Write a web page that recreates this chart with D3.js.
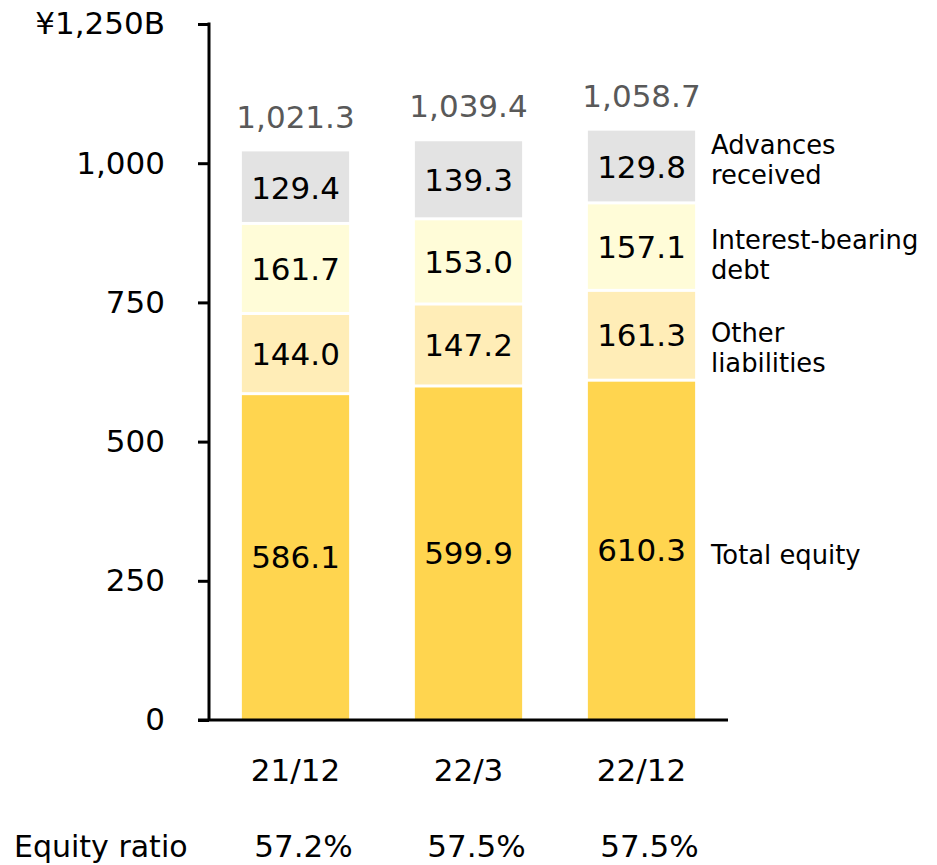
<!DOCTYPE html>
<html>
<head>
<meta charset="utf-8">
<script src="https://cdn.jsdelivr.net/npm/d3@7"></script>
<style>
  body { margin: 0; background: #fff; }
  text { font-family: "DejaVu Sans", Verdana, sans-serif; }
</style>
</head>
<body>
<svg id="chart" width="937" height="865"></svg>
<script>
// Chart data
const periods = ["21/12", "22/3", "22/12"];
const seriesNames = ["Total equity", "Other liabilities", "Interest-bearing debt", "Advances received"];
const legendLines = [["Total equity"], ["Other", "liabilities"], ["Interest-bearing", "debt"], ["Advances", "received"]];
const totalEquity = [586.1, 599.9, 610.3];
const otherLiabilities = [144.0, 147.2, 161.3];
const interestDebt = [161.7, 153.0, 157.1];
const advancesReceived = [129.4, 139.3, 129.8];
const totals = ["1,021.3", "1,039.4", "1,058.7"];
const equityRatio = ["57.2%", "57.5%", "57.5%"];
const yTicks = [0, 250, 500, 750, 1000, 1250];
const colors = ["#FFD54F", "#FFEDB7", "#FFFCD8", "#E3E3E3"];

document.addEventListener("DOMContentLoaded", () => {

    const svg = d3.select("#chart");
    const left = 209, right = 728, top = 24, bottom = 720;
    const fs = 31;

    const table = periods.map((p, i) => ({
        period: p,
        "Total equity": totalEquity[i],
        "Other liabilities": otherLiabilities[i],
        "Interest-bearing debt": interestDebt[i],
        "Advances received": advancesReceived[i]
    }));
    const stacked = d3.stack().keys(seriesNames)(table);

    const x = d3.scaleBand().domain(periods).range([left, right])
        .paddingInner(0.38).paddingOuter(0.19);
    const y = d3.scaleLinear().domain([0, 1250]).range([bottom, top]);

    // Bars
    const gap = 3;
    stacked.forEach((layer, si) => {
        const isTop = si === stacked.length - 1;
        svg.append("g").selectAll("rect")
            .data(layer)
            .join("rect")
            .attr("x", d => x(d.data.period))
            .attr("width", x.bandwidth())
            .attr("y", d => y(d[1]) + (isTop ? 0 : gap / 2))
            .attr("height", d => {
                const t = y(d[1]) + (isTop ? 0 : gap / 2);
                const b = si === 0 ? y(d[0]) : y(d[0]) - gap / 2;
                return b - t;
            })
            .attr("fill", colors[si]);

        // value labels
        svg.append("g").selectAll("text")
            .data(layer)
            .join("text")
            .attr("x", d => x(d.data.period) + x.bandwidth() / 2)
            .attr("y", d => y((d[0] + d[1]) / 2))
            .attr("dy", "0.36em")
            .attr("text-anchor", "middle")
            .attr("font-size", fs)
            .attr("fill", "#000")
            .text(d => (d[1] - d[0]).toFixed(1));
    });

    // Totals above bars
    const topLayer = stacked[stacked.length - 1];
    svg.append("g").selectAll("text")
        .data(topLayer)
        .join("text")
        .attr("x", d => x(d.data.period) + x.bandwidth() / 2)
        .attr("y", d => y(d[1]) - 35)
        .attr("dy", "0.36em")
        .attr("text-anchor", "middle")
        .attr("font-size", fs)
        .attr("fill", "#595959")
        .text((d, i) => totals[i]);

    // Legend labels on the right of last bar
    const last = periods.length - 1;
    const legendShift = [5, 12, 8, -7];
    stacked.forEach((layer, si) => {
        const d = layer[last];
        const lines = legendLines[si];
        const cy = y((d[0] + d[1]) / 2) + legendShift[si];
        const t = svg.append("text")
            .attr("x", 711)
            .attr("font-size", 25.8)
            .attr("fill", "#000");
        lines.forEach((ln, k) => {
            t.append("tspan")
                .attr("x", 711)
                .attr("y", cy + (k - (lines.length - 1) / 2) * 30)
                .attr("dy", "0.36em")
                .text(ln);
        });
    });

    // Y axis
    const yAxis = d3.axisLeft(y).tickValues(yTicks).tickSize(11).tickPadding(33)
        .tickFormat(v => v === 1250 ? "¥1,250B" : d3.format(",")(v));
    const ga = svg.append("g").attr("transform", `translate(${left},0)`).call(yAxis);
    ga.select(".domain").remove();
    ga.selectAll(".tick line").attr("stroke", "#000").attr("stroke-width", 3);
    ga.selectAll(".tick text").attr("font-size", fs).attr("fill", "#000")
        .attr("font-family", "DejaVu Sans, Verdana, sans-serif");
    ga.append("line").attr("x1", 0).attr("x2", 0).attr("y1", top - 1.5).attr("y2", bottom)
        .attr("stroke", "#000").attr("stroke-width", 3);

    // Baseline
    svg.append("line")
        .attr("x1", left - 11).attr("x2", right)
        .attr("y1", bottom).attr("y2", bottom)
        .attr("stroke", "#000").attr("stroke-width", 3);

    // Category labels
    svg.append("g").selectAll("text")
        .data(periods)
        .join("text")
        .attr("x", d => x(d) + x.bandwidth() / 2)
        .attr("y", 770)
        .attr("dy", "0.36em")
        .attr("text-anchor", "middle")
        .attr("font-size", fs)
        .text(d => d);

    // Equity ratio row
    svg.append("text")
        .attr("x", 14).attr("y", 857)
        .attr("font-size", 30)
        .text("Equity ratio");
    svg.append("g").selectAll("text")
        .data(equityRatio)
        .join("text")
        .attr("x", (d, i) => x(periods[i]) + x.bandwidth() / 2 + 8)
        .attr("y", 857)
        .attr("text-anchor", "middle")
        .attr("font-size", fs)
        .text(d => d);
});
</script>
</body>
</html>
